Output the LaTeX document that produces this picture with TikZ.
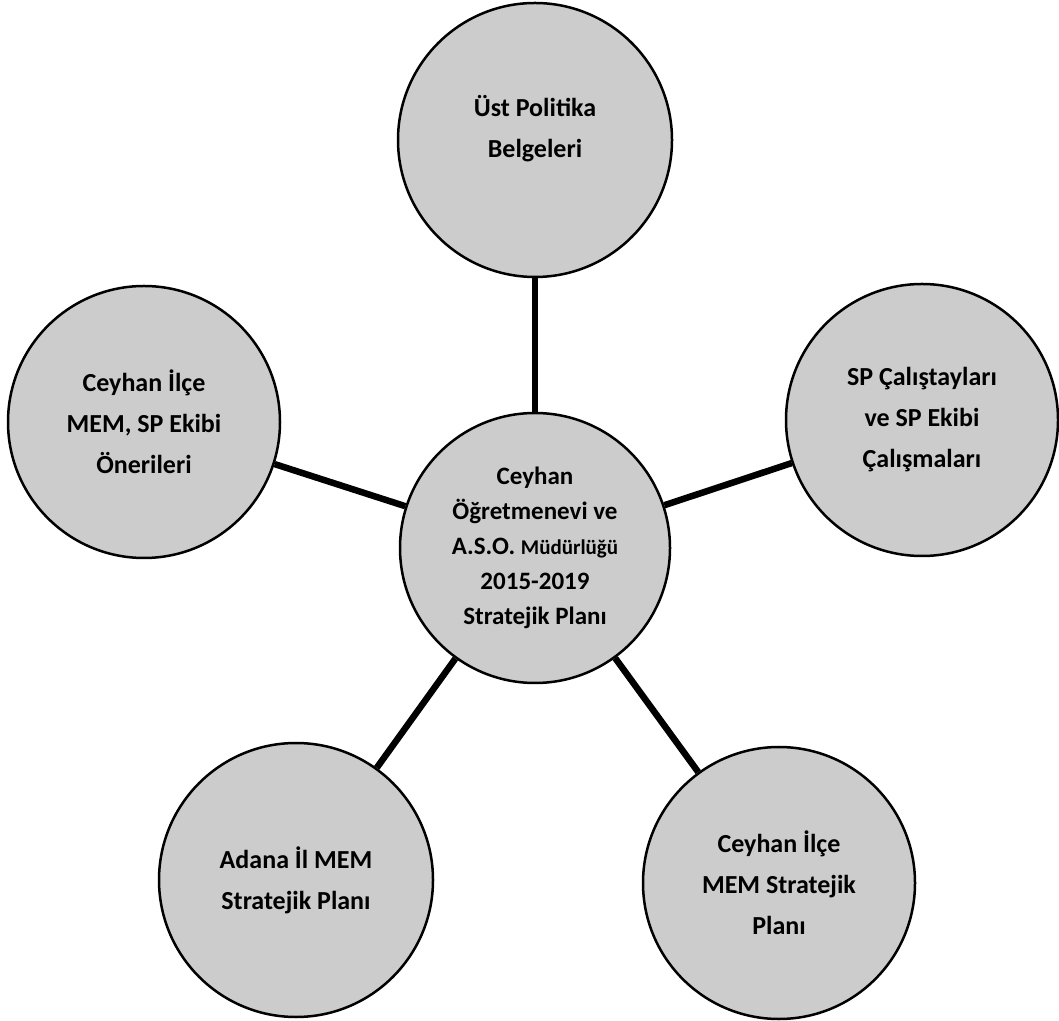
\documentclass[tikz,border=0pt]{standalone}
\usepackage{fontspec}
\setmainfont{Carlito}
\begin{document}
\begin{tikzpicture}[x=1pt,y=1pt,
  bubble/.style={circle, draw=black, line width=2.5pt, fill=black!20,
    align=center, inner sep=0pt, font=\bfseries\fontsize{26}{41}\selectfont},
  link/.style={line width=6.5pt, draw=black}]
\useasboundingbox (0,0) rectangle (1059,1020);
\node[bubble, minimum size=274pt] (top) at (535,880) {Üst Politika\\Belgeleri\\[-13pt]};
\node[bubble, minimum size=270pt, font=\bfseries\fontsize{25}{35}\selectfont] (mid) at (535,472)
  {Ceyhan\\Öğretmenevi ve\\A.S.O. {\fontsize{21}{35}\selectfont Müdürlüğü}\\2015-2019\\Stratejik Planı};
\node[bubble, minimum size=272pt] (left) at (144,598) {Ceyhan İlçe\\MEM, SP Ekibi\\Önerileri};
\node[bubble, minimum size=272pt] (right) at (922,600) {SP Çalıştayları\\ve SP Ekibi\\Çalışmaları};
\node[bubble, minimum size=274pt] (bl) at (296,140) {Adana İl MEM\\Stratejik Planı};
\node[bubble, minimum size=272pt] (br) at (779,137) {Ceyhan İlçe\\MEM Stratejik\\Planı};
\draw[link] (top) -- (mid);
\draw[link] (left) -- (mid);
\draw[link] (right) -- (mid);
\draw[link] (bl) -- (mid);
\draw[link] (br) -- (mid);
\end{tikzpicture}
\end{document}
